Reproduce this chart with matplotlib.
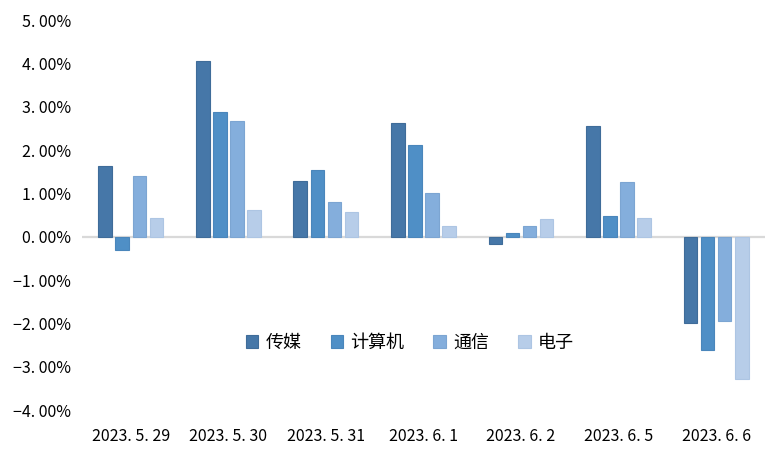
import numpy as np
import matplotlib
matplotlib.use("Agg")
import matplotlib.pyplot as plt
from matplotlib.ticker import FuncFormatter

plt.rcParams['font.family'] = ['Noto Sans CJK SC', 'DejaVu Sans']
plt.rcParams['axes.unicode_minus'] = True

# 数据（单位：%）
dates = ["2023. 5. 29", "2023. 5. 30", "2023. 5. 31", "2023. 6. 1",
         "2023. 6. 2", "2023. 6. 5", "2023. 6. 6"]
series_names = ["传媒", "计算机", "通信", "电子"]
media = [1.63, 4.05, 1.29, 2.62, -0.16, 2.55, -1.98]
computer = [-0.30, 2.87, 1.54, 2.11, 0.09, 0.48, -2.62]
telecom = [1.40, 2.67, 0.80, 1.01, 0.25, 1.26, -1.95]
electronics = [0.44, 0.62, 0.57, 0.25, 0.41, 0.44, -3.29]
y_ticks = [-4, -3, -2, -1, 0, 1, 2, 3, 4, 5]

colors = ["#4677a8", "#4f8fc6", "#84aedc", "#b7cde9"]
edges = ["#3f6c99", "#4a86bb", "#7ca5d2", "#adc5e3"]

fig = plt.figure(figsize=(7.76, 4.66), dpi=100)
ax = fig.add_axes([0.1057, 0.12, 0.880, 0.837])

x = np.arange(len(dates))
width = 0.14
step = 0.175
for i, (name, vals) in enumerate(zip(series_names, [media, computer, telecom, electronics])):
    ax.bar(x + (i - 1.5) * step, vals, width, label=name, color=colors[i],
           edgecolor=edges[i], linewidth=0.8, zorder=2)

ax.axhline(0, color="#d9d9d9", linewidth=1.6, zorder=1)

ax.set_xlim(-0.5, len(dates) - 0.5)
ax.set_ylim(-4, 5)
ax.set_yticks(y_ticks)
ax.yaxis.set_major_formatter(FuncFormatter(
    lambda v, p: f"{v:.2f}%".replace(".", ". ").replace("-", "\u2212")))
ax.set_xticks(x)
ax.set_xticklabels(dates)
ax.tick_params(axis='both', length=0, labelsize=11.5, colors="#000000")
ax.tick_params(axis='x', pad=13)
ax.tick_params(axis='y', pad=8)

for s in ax.spines.values():
    s.set_visible(False)

ax.legend(loc="center", bbox_to_anchor=(0.48, 0.172), ncol=4, frameon=False,
          fontsize=13, handlelength=0.7, handleheight=0.7, handletextpad=0.4,
          columnspacing=1.6)

fig.savefig("out.png", dpi=100)
